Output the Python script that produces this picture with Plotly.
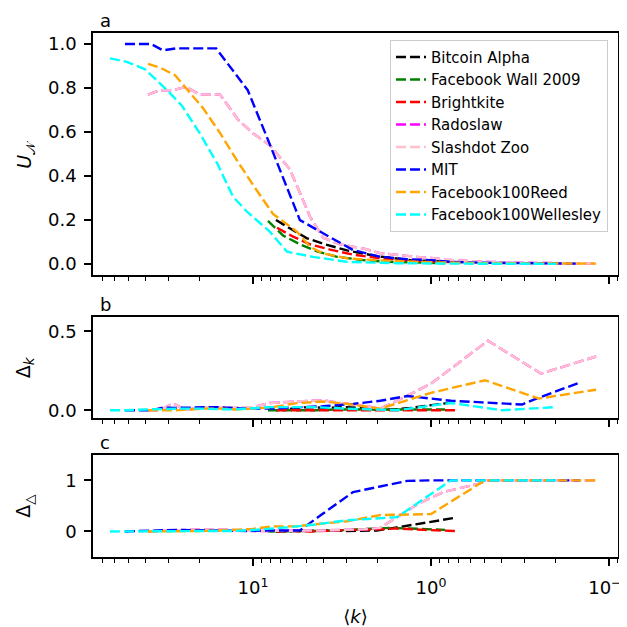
import plotly.graph_objects as go
from plotly.subplots import make_subplots

# average degree <k> per step, and the three measures, one set per network
bitcoin_k = [7.43, 5.96, 4.97, 3.94, 2.96, 2.01, 1.61, 1.30, 1.0, 0.752]
bitcoin_U = [0.2, 0.155, 0.117, 0.09, 0.062, 0.036, 0.026, 0.018, 0.014, 0.01]
bitcoin_dk = [0.0, 0.01, 0.02, 0.015, 0.02, 0.005, 0.005, 0.015, 0.03, 0.05]
bitcoin_dt = [0.0, 0.01, 0.02, 0.02, 0.01, 0.02, 0.07, 0.12, 0.18, 0.26]

fbwall_k = [8.24, 6.78, 5.45, 4.37, 3.37, 2.41, 1.70, 1.15, 0.834]
fbwall_U = [0.196, 0.13, 0.09, 0.058, 0.033, 0.018, 0.01, 0.006, 0.004]
fbwall_dk = [0.0, 0.0, 0.0, 0.0, 0.005, 0.005, 0.005, 0.005, 0.005]
fbwall_dt = [0.0, 0.0, 0.01, 0.01, 0.02, 0.04, 0.07, 0.05, 0.03]

bright_k = [7.33, 5.96, 4.78, 3.69, 2.74, 1.93, 1.55, 1.09, 0.733]
bright_U = [0.165, 0.125, 0.09, 0.066, 0.043, 0.026, 0.02, 0.013, 0.008]
bright_dk = [0.0, 0.0, 0.0, 0.0, 0.0, 0.0, 0.0, 0.0, 0.0]
bright_dt = [0.0, 0.01, 0.0, 0.02, 0.03, 0.04, 0.06, 0.03, 0.01]

slash_k = [38.9, 33.3, 28.1, 23.8, 19.9, 15.3, 12.1, 10.0, 8.03, 6.20, 4.78, 4.04,
           3.24, 2.41, 1.93, 1.55, 1.18, 1.0, 0.834, 0.545, 0.478, 0.241, 0.118]
slash_U = [0.77, 0.79, 0.79, 0.805, 0.77, 0.77, 0.655, 0.594, 0.54, 0.43, 0.215, 0.12,
           0.09, 0.071, 0.05, 0.041, 0.032, 0.028, 0.02, 0.012, 0.01, 0.005, 0.003]
slash_dk = [0.0, 0.0, 0.044, 0.0, 0.02, 0.02, 0.02, 0.02, 0.046, 0.055, 0.06, 0.063,
            0.046, 0.03, 0.01, 0.06, 0.125, 0.168, 0.235, 0.39, 0.44, 0.232, 0.34]
slash_dt = [0.0, 0.01, 0.02, 0.03, 0.04, 0.04, 0.02, 0.01, 0.01, 0.02, 0.02, 0.02,
            0.03, 0.04, 0.07, 0.28, 0.54, 0.66, 0.78, 0.93, 1.0, 1.0, 1.0]

# Radoslaw sits right under Slashdot Zoo in the picture
rado_k = slash_k
rado_U = slash_U
rado_dk = slash_dk
rado_dt = slash_dt

mit_k = [52.4, 37.4, 32.0, 27.1, 16.1, 10.7, 8.24, 5.45, 4.04, 2.74, 1.93, 1.36,
         1.0, 0.772, 0.517, 0.308, 0.247, 0.146]
mit_U = [1.0, 1.0, 0.971, 0.98, 0.98, 0.79, 0.565, 0.2, 0.14, 0.064, 0.033, 0.022,
         0.018, 0.01, 0.006, 0.004, 0.003, 0.002]
mit_dk = [0.0, 0.0, 0.017, 0.015, 0.02, 0.01, 0.01, 0.02, 0.025, 0.04, 0.06, 0.09,
          0.075, 0.06, 0.05, 0.036, 0.08, 0.175]
mit_dt = [0.0, 0.02, 0.02, 0.03, 0.02, 0.01, 0.02, 0.02, 0.35, 0.77, 0.88, 0.99,
          1.0, 1.0, 1.0, 1.0, 1.0, 1.0]

reed_k = [38.9, 33.3, 27.4, 22.6, 19.1, 15.3, 12.5, 10.0, 7.72, 5.66, 4.78, 4.04,
          2.96, 1.93, 1.0, 0.497, 0.247, 0.118]
reed_U = [0.91, 0.893, 0.858, 0.78, 0.709, 0.595, 0.48, 0.36, 0.228, 0.147, 0.079, 0.048,
          0.026, 0.016, 0.008, 0.004, 0.002, 0.002]
reed_dk = [0.0, 0.0, 0.0, 0.005, 0.01, 0.01, 0.005, 0.01, 0.02, 0.045, 0.05, 0.055,
           0.04, 0.01, 0.11, 0.19, 0.074, 0.13]
reed_dt = [0.0, 0.0, 0.0, 0.01, 0.01, 0.02, 0.03, 0.05, 0.1, 0.1, 0.13, 0.15,
           0.2, 0.32, 0.34, 1.0, 1.0, 1.0]

well_k = [63.6, 51.7, 40.4, 30.4, 25.1, 19.9, 15.9, 12.95, 10.8, 8.03, 6.44, 4.60,
          2.96, 1.55, 0.772, 0.399, 0.198]
well_U = [0.935, 0.92, 0.885, 0.79, 0.72, 0.594, 0.458, 0.306, 0.238, 0.147, 0.056, 0.033,
          0.01, 0.004, 0.002, 0.001, 0.001]
well_dk = [0.0, 0.0, 0.005, 0.01, 0.01, 0.01, 0.005, 0.005, 0.01, 0.02, 0.02, 0.02,
           0.01, 0.0, 0.046, 0.0, 0.02]
well_dt = [0.0, 0.0, 0.0, 0.0, 0.0, 0.0, 0.01, 0.01, 0.02, 0.05, 0.08, 0.13,
           0.22, 0.28, 1.0, 1.0, 1.0]

names = ["Bitcoin Alpha", "Facebook Wall 2009", "Brightkite", "Radoslaw",
         "Slashdot Zoo", "MIT", "Facebook100Reed", "Facebook100Wellesley"]
colors = ["black", "green", "red", "magenta", "pink", "blue", "orange", "cyan"]
series = [
    (bitcoin_k, bitcoin_U, bitcoin_dk, bitcoin_dt),
    (fbwall_k, fbwall_U, fbwall_dk, fbwall_dt),
    (bright_k, bright_U, bright_dk, bright_dt),
    (rado_k, rado_U, rado_dk, rado_dt),
    (slash_k, slash_U, slash_dk, slash_dt),
    (mit_k, mit_U, mit_dk, mit_dt),
    (reed_k, reed_U, reed_dk, reed_dt),
    (well_k, well_U, well_dk, well_dt),
]

major_ticks = [10, 1, 0.1]
major_text = ["10<sup>1</sup>", "10<sup>0</sup>", "10<sup>−1</sup>"]
minor_ticks = [m * 10.0 ** e for e in (-2, -1, 0, 1) for m in range(2, 10)]
minor_ticks = [v for v in minor_ticks if 0.089 < v < 81]

fig = make_subplots(rows=3, cols=1, shared_xaxes=True)

for name, color, (k, U, dk, dt) in zip(names, colors, series):
    line = dict(color=color, width=2.4, dash="10px,4px")
    fig.add_trace(go.Scatter(x=k, y=U, mode="lines", name=name, line=line,
                             legendgroup=name), row=1, col=1)
    fig.add_trace(go.Scatter(x=k, y=dk, mode="lines", name=name, line=line,
                             legendgroup=name, showlegend=False), row=2, col=1)
    fig.add_trace(go.Scatter(x=k, y=dt, mode="lines", name=name, line=line,
                             legendgroup=name, showlegend=False), row=3, col=1)

axis_style = dict(showline=True, mirror=True, linecolor="black", linewidth=1.6,
                  ticks="outside", ticklen=7, tickwidth=1.5, tickcolor="black",
                  showgrid=False, zeroline=False, automargin=False,
                  tickfont=dict(size=18))

fig.update_xaxes(type="log", range=[1.899, -1.051], tickvals=major_ticks,
                 ticktext=major_text, ticklabeloverflow="allow",
                 minor=dict(tickvals=minor_ticks, ticks="outside", ticklen=4,
                            tickwidth=1.1, tickcolor="black"),
                 **axis_style)
fig.update_xaxes(title=dict(text="⟨<i>k</i>⟩", standoff=16, font=dict(size=18)),
                 ticklabelstandoff=7, row=3, col=1)

fig.update_yaxes(ticklabelstandoff=4, **axis_style)
fig.update_yaxes(range=[-0.05, 1.05], tickvals=[0, 0.2, 0.4, 0.6, 0.8, 1.0],
                 tickformat=".1f", domain=[0.538, 1.0], row=1, col=1)
fig.update_yaxes(range=[-0.05, 0.59], tickvals=[0, 0.5], tickformat=".1f",
                 domain=[0.265, 0.458], row=2, col=1)
fig.update_yaxes(range=[-0.5, 1.5], tickvals=[0, 1], domain=[0.0, 0.195],
                 row=3, col=1)

labels = [("a", 1.0), ("b", 0.458), ("c", 0.195)]
for letter, top in labels:
    fig.add_annotation(text=letter, xref="paper", yref="paper", x=0, y=top,
                       xanchor="left", yanchor="bottom", xshift=5, yshift=0,
                       showarrow=False, font=dict(size=18))

ylabels = [("<i>U</i><sub>𝒩</sub>", 0.769), ("Δ<sub><i>k</i></sub>", 0.3615),
           ("Δ<sub>△</sub>", 0.0975)]
for text, yc in ylabels:
    fig.add_annotation(text=text, xref="paper", yref="paper", x=-0.13, y=yc,
                       xanchor="center", yanchor="middle", textangle=-90,
                       showarrow=False, font=dict(size=19))

# the page body adds an 8px offset, so the figure is 8px smaller with
# the same plot area
fig.update_layout(
    width=619, height=619,
    margin=dict(l=85, r=9, t=25, b=70),
    plot_bgcolor="white", paper_bgcolor="white",
    font=dict(family="DejaVu Sans", size=15, color="black"),
    legend=dict(x=0.981, y=0.987, xanchor="right", yanchor="top",
                bgcolor="rgba(255,255,255,0.8)", bordercolor="#cccccc",
                borderwidth=1, font=dict(size=15), tracegroupgap=0,
                itemwidth=30),
)

fig.write_html("out.html")
